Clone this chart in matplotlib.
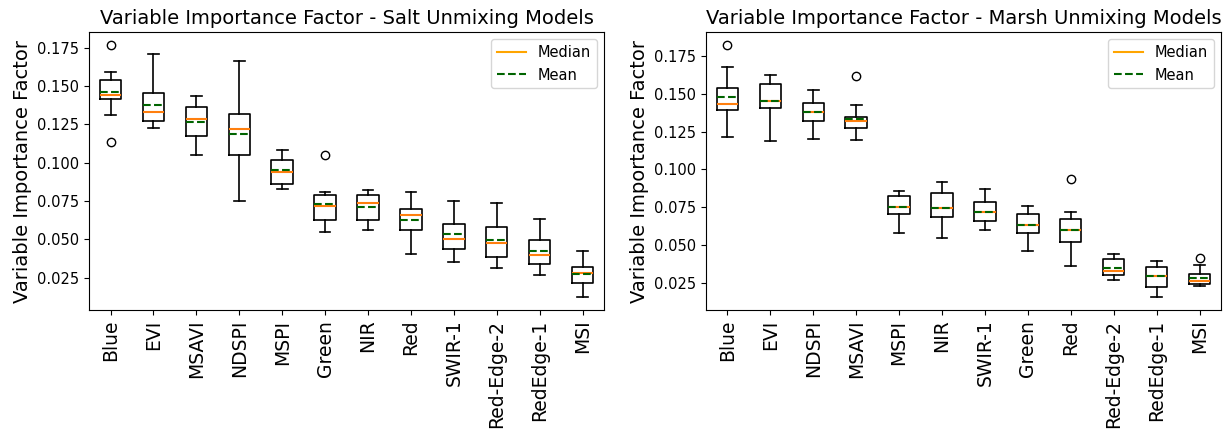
import numpy as np
import matplotlib
matplotlib.use('Agg')
import matplotlib.pyplot as plt
from matplotlib.lines import Line2D

# --- Salt unmixing models ---
salt_labels = ['Blue', 'EVI', 'MSAVI', 'NDSPI', 'MSPI', 'Green', 'NIR', 'Red',
               'SWIR-1', 'Red-Edge-2', 'RedEdge-1', 'MSI']
salt_whislo = [0.1310, 0.1224, 0.1047, 0.0750, 0.0825, 0.0546, 0.0558, 0.0403,
               0.0350, 0.0311, 0.0268, 0.0122]
salt_q1 = [0.1415, 0.1269, 0.1173, 0.1047, 0.0860, 0.0625, 0.0627, 0.0560,
           0.0437, 0.0388, 0.0340, 0.0218]
salt_med = [0.1443, 0.1330, 0.1282, 0.1221, 0.0938, 0.0718, 0.0738, 0.0660,
            0.0505, 0.0475, 0.0401, 0.0281]
salt_mean = [0.1459, 0.1378, 0.1265, 0.1188, 0.0950, 0.0729, 0.0712, 0.0623,
             0.0533, 0.0494, 0.0427, 0.0272]
salt_q3 = [0.1537, 0.1454, 0.1361, 0.1317, 0.1019, 0.0786, 0.0786, 0.0695,
           0.0597, 0.0581, 0.0496, 0.0323]
salt_whishi = [0.1589, 0.1707, 0.1435, 0.1659, 0.1082, 0.0808, 0.0823, 0.0806,
               0.0749, 0.0740, 0.0633, 0.0424]
salt_fliers = [[0.1768, 0.1136], [], [], [], [], [0.1047], [], [], [], [], [], []]

# --- Marsh unmixing models ---
marsh_labels = ['Blue', 'EVI', 'NDSPI', 'MSAVI', 'MSPI', 'NIR', 'SWIR-1', 'Green',
                'Red', 'Red-Edge-2', 'RedEdge-1', 'MSI']
marsh_whislo = [0.1215, 0.1188, 0.1199, 0.1197, 0.0584, 0.0546, 0.0599, 0.0462,
                0.0361, 0.0272, 0.0156, 0.0234]
marsh_q1 = [0.1391, 0.1407, 0.1323, 0.1272, 0.0703, 0.0688, 0.0663, 0.0582,
            0.0522, 0.0301, 0.0225, 0.0241]
marsh_med = [0.1429, 0.1454, 0.1381, 0.1322, 0.0754, 0.0745, 0.0719, 0.0631,
             0.0599, 0.0332, 0.0294, 0.0261]
marsh_mean = [0.1476, 0.1454, 0.1381, 0.1335, 0.0754, 0.0745, 0.0719, 0.0631,
              0.0599, 0.0350, 0.0294, 0.0287]
marsh_q3 = [0.1538, 0.1562, 0.1441, 0.1345, 0.0823, 0.0843, 0.0785, 0.0706,
            0.0672, 0.0410, 0.0354, 0.0309]
marsh_whishi = [0.1673, 0.1626, 0.1524, 0.1425, 0.0856, 0.0916, 0.0870, 0.0761,
                0.0717, 0.0445, 0.0393, 0.0372]
marsh_fliers = [[0.1823], [], [], [0.1620], [], [], [], [], [0.0936], [], [], [0.0415]]


def make_stats(labels, wlo, q1, med, mean, q3, whi, fliers):
    stats = []
    for i in range(len(labels)):
        stats.append(dict(label=labels[i], whislo=wlo[i], q1=q1[i], med=med[i],
                          mean=mean[i], q3=q3[i], whishi=whi[i],
                          fliers=np.array(fliers[i])))
    return stats


fig, axes = plt.subplots(1, 2, figsize=(12.25, 4.34), dpi=100)
fig.subplots_adjust(left=0.0727, right=0.9967, top=0.926, bottom=0.2857, wspace=0.198)

panels = [
    (axes[0], 'Variable Importance Factor - Salt Unmixing Models',
     make_stats(salt_labels, salt_whislo, salt_q1, salt_med, salt_mean,
                salt_q3, salt_whishi, salt_fliers)),
    (axes[1], 'Variable Importance Factor - Marsh Unmixing Models',
     make_stats(marsh_labels, marsh_whislo, marsh_q1, marsh_med, marsh_mean,
                marsh_q3, marsh_whishi, marsh_fliers)),
]

for ax, title, stats in panels:
    ax.bxp(stats, showmeans=True, meanline=True,
           boxprops=dict(linewidth=1.2), whiskerprops=dict(linewidth=1.2),
           capprops=dict(linewidth=1.2),
           medianprops=dict(color='#ff7f0e', linewidth=1.5),
           meanprops=dict(color='darkgreen', linestyle='--', linewidth=1.5))
    ax.set_title(title, fontsize=14)
    ax.set_ylabel('Variable Importance Factor', fontsize=14)
    ax.tick_params(axis='y', labelsize=10.5)
    ax.tick_params(axis='x', labelsize=13.5, rotation=90)
    handles = [Line2D([], [], color='orange', linewidth=1.5, label='Median'),
               Line2D([], [], color='darkgreen', linestyle='--', linewidth=1.5, label='Mean')]
    ax.legend(handles=handles, loc='upper right', fontsize=10.5)

fig.savefig('out.png', dpi=100)
